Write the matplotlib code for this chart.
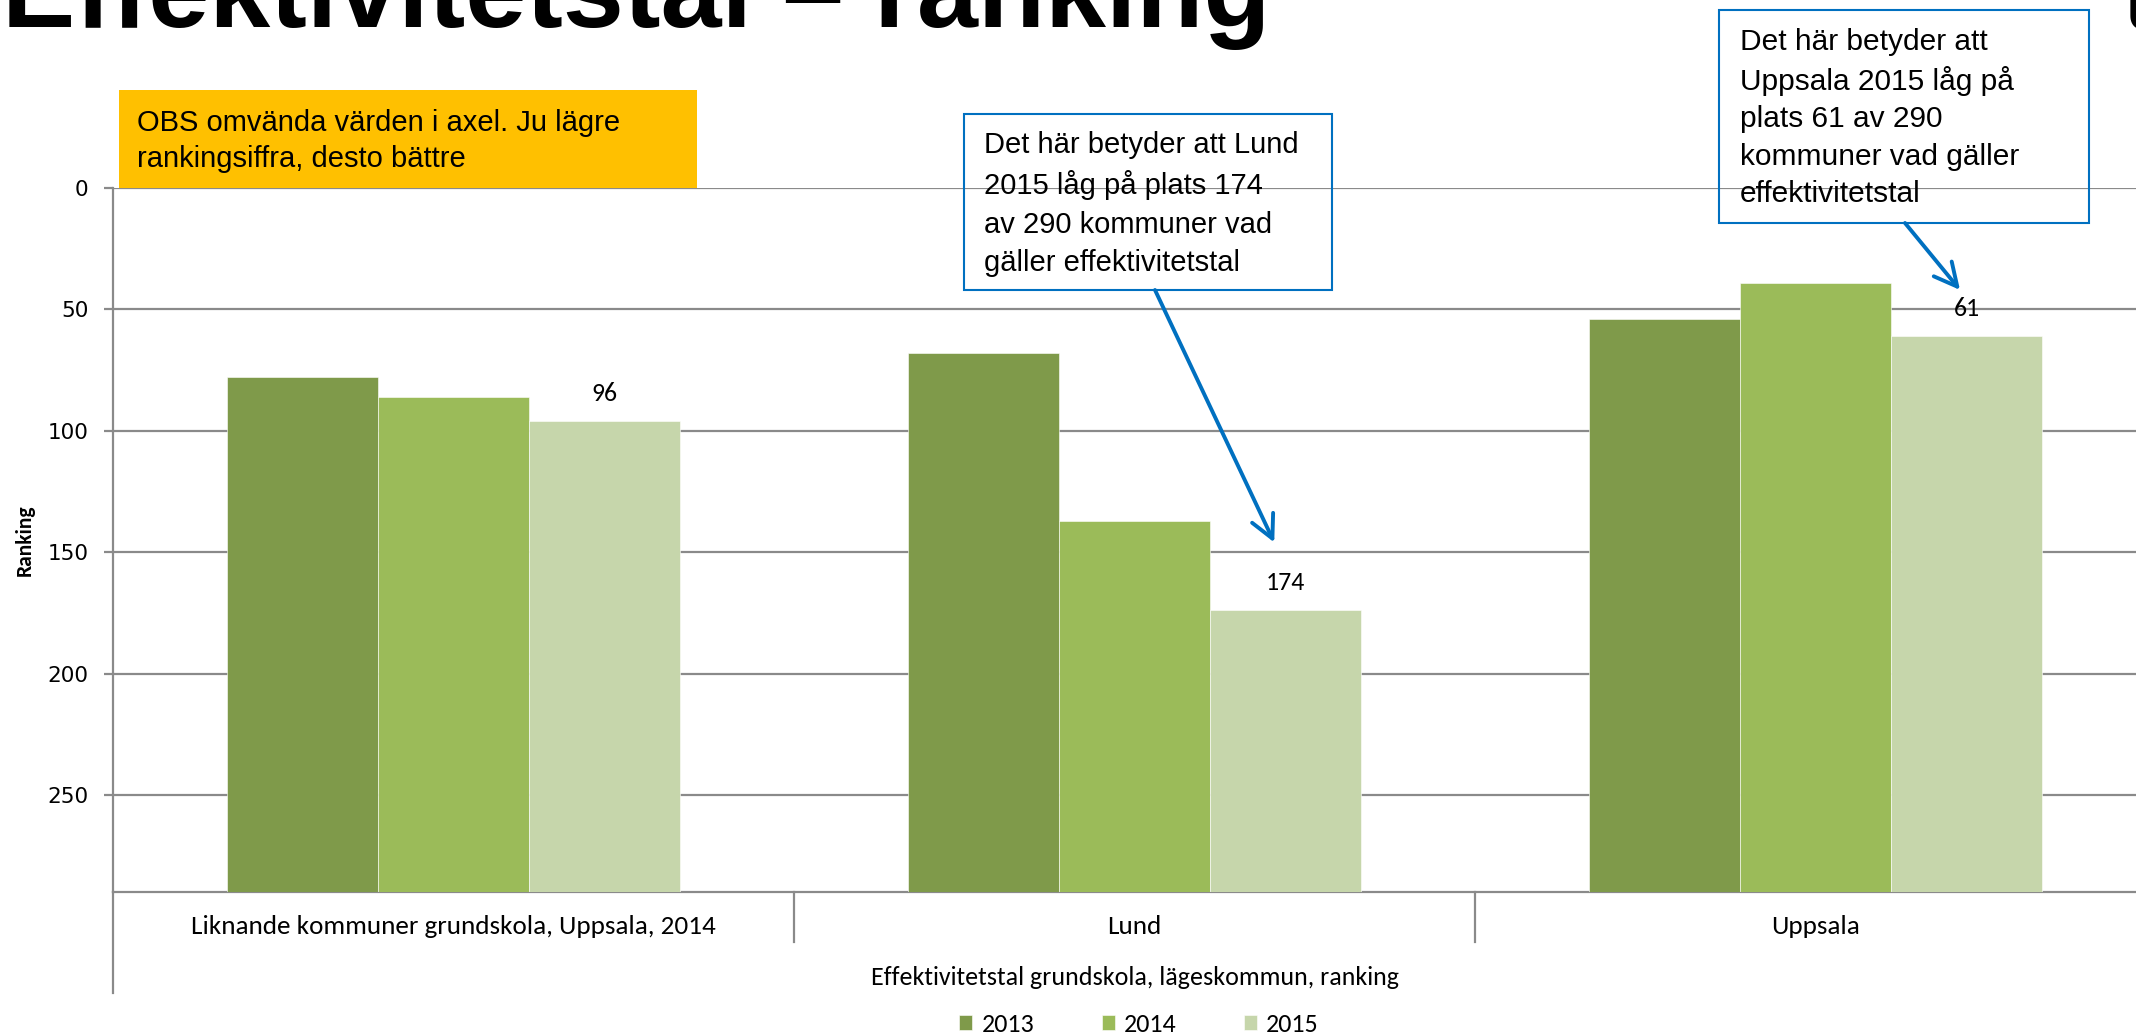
import matplotlib
matplotlib.use("Agg")
import matplotlib.pyplot as plt
from matplotlib import font_manager
from matplotlib.patches import Rectangle
import numpy as np

# data
categories = ["Liknande kommuner grundskola, Uppsala, 2014", "Lund", "Uppsala"]
years = ["2013", "2014", "2015"]
rank_2013 = [78, 68, 54]
rank_2014 = [86, 137, 39]
rank_2015 = [96, 174, 61]
n_kommuner = 290

colors = ["#7F9A4A", "#9BBB59", "#C6D6AB"]
grid_col = "#8A8A8A"
blue = "#0070C0"

names = {f.name for f in font_manager.fontManager.ttflist}
def pick(*cands):
    for c in cands:
        if c in names:
            return c
    return "DejaVu Sans"

xl_font = pick("Carlito", "Lato")
box_font = pick("Liberation Sans", "DejaVu Sans")

W, H = 2136, 1036
fig = plt.figure(figsize=(W / 100, H / 100), dpi=100)

def fx(px):
    return px / W

def fy(py):
    return 1 - py / H

ax = fig.add_axes([fx(113), fy(892), (3 * 681) / W, 704 / H])

w = 0.2222
x = np.arange(len(categories))
series = [rank_2013, rank_2014, rank_2015]
bars = []
for j, vals in enumerate(series):
    vals = np.array(vals)
    b = ax.bar(x + (j - 1) * w, n_kommuner - vals, bottom=vals, width=w,
               color=colors[j], edgecolor="white", linewidth=0.4,
               label=years[j], zorder=3)
    bars.append(b)

# etiketter bara for 2015
for xi, v in zip(x + w, rank_2015):
    ax.annotate(str(v), xy=(xi, v), xytext=(0, 20), textcoords="offset points",
                ha="center", va="center", fontsize=18.5, family=xl_font, zorder=4)

ax.set_xlim(-0.5, 2.5)
ax.set_ylim(n_kommuner, 0)
ax.set_yticks(range(0, 251, 50))
ax.yaxis.grid(True, color=grid_col, linewidth=1.6, zorder=0)
ax.set_xticks([])
for s in ["top", "right"]:
    ax.spines[s].set_visible(False)
ax.spines["left"].set_color(grid_col)
ax.spines["left"].set_linewidth(1.6)
ax.spines["bottom"].set_color(grid_col)
ax.spines["bottom"].set_linewidth(1.6)
ax.tick_params(axis="y", direction="out", length=6.5, width=1.6, color=grid_col,
               pad=11, labelsize=15.5)
for t in ax.get_yticklabels():
    t.set_family("DejaVu Sans")

# kategoriaxel med avdelare
ax.plot([0, 0], [0, -0.1435], transform=ax.transAxes, color=grid_col, lw=1.6, clip_on=False)
for k in [1, 2]:
    ax.plot([k / 3, k / 3], [0, -0.071], transform=ax.transAxes, color=grid_col, lw=1.6, clip_on=False)
tr = matplotlib.transforms.blended_transform_factory(ax.transData, ax.transAxes)
for xi, c in zip(x, categories):
    ax.text(xi, -0.0497, c, transform=tr, ha="center", va="center",
            fontsize=19.5, family=xl_font)
ax.text(0.5, -0.122, "Effektivitetstal grundskola, lägeskommun, ranking",
        transform=ax.transAxes, ha="center", va="center", fontsize=18.7, family=xl_font)

fig.text(fx(25), fy(540), "Ranking", rotation=90, ha="center", va="center",
         fontsize=15.5, weight="bold", family=xl_font)

fig.legend(handles=bars, labels=years, loc="center", bbox_to_anchor=(fx(1139), fy(1024)),
           ncol=3, frameon=False, handlelength=0.5, handleheight=0.5,
           handletextpad=0.35, columnspacing=2.6, prop={"family": xl_font, "size": 18.7})

# rubrik (avklippt i originalet)
fig.text(fx(2), fy(27), "Effektivitetstal – ranking", ha="left", va="baseline",
         fontsize=79, weight="bold", family=box_font)
fig.text(fx(2127), fy(30), "U", ha="left", va="baseline", fontsize=40, weight="bold",
         family=box_font)

# gul ruta
fig.patches.append(Rectangle((fx(119), fy(188)), (697 - 119) / W, (188 - 90) / H,
                             transform=fig.transFigure, facecolor="#FFC000", edgecolor="none"))
fig.text(fx(137), fy(141), "OBS omvända värden i axel. Ju lägre\nrankingsiffra, desto bättre",
         ha="left", va="center", fontsize=21, family=box_font, linespacing=1.4)

# pratbubblor
fig.patches.append(Rectangle((fx(964), fy(290)), (1332 - 964) / W, (290 - 114) / H,
                             transform=fig.transFigure, facecolor="none", edgecolor=blue, lw=1.5))
fig.text(fx(984), fy(204), "Det här betyder att Lund\n2015 låg på plats 174\nav 290 kommuner vad\ngäller effektivitetstal",
         ha="left", va="center", fontsize=21, family=box_font, linespacing=1.47)
fig.patches.append(Rectangle((fx(1719), fy(223)), (2089 - 1719) / W, (223 - 10) / H,
                             transform=fig.transFigure, facecolor="none", edgecolor=blue, lw=1.5))
fig.text(fx(1740), fy(118), "Det här betyder att\nUppsala 2015 låg på\nplats 61 av 290\nkommuner vad gäller\neffektivitetstal",
         ha="left", va="center", fontsize=21.5, family=box_font, linespacing=1.42)

arrow = dict(arrowstyle="->,head_length=0.75,head_width=0.38", color=blue, lw=2.8,
             mutation_scale=22, shrinkA=0, shrinkB=0)
ax.annotate("", xy=(1 + w - 0.017, 174 - 28), xycoords="data",
            xytext=(fx(1155), fy(290)), textcoords="figure fraction", arrowprops=arrow)
ax.annotate("", xy=(2 + w - 0.010, 61 - 19), xycoords="data",
            xytext=(fx(1905), fy(223)), textcoords="figure fraction", arrowprops=arrow)

fig.savefig("out.png", dpi=100)
